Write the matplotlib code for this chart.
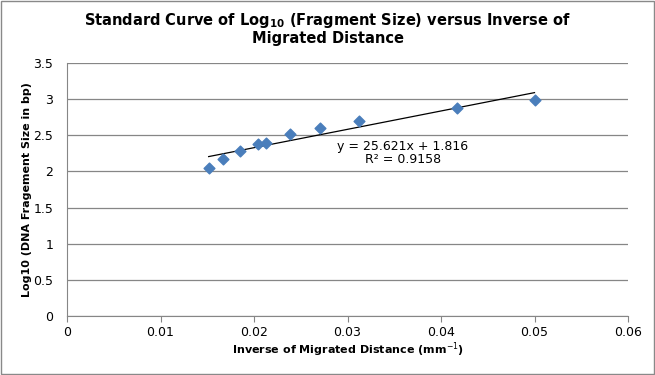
import numpy as np
import matplotlib.pyplot as plt
from matplotlib.patches import Rectangle

# inverse migrated distance (1/mm) and log10 fragment size
inv_dist = [0.01515, 0.01667, 0.01852, 0.02041, 0.02128, 0.02381, 0.02703, 0.03125, 0.04167, 0.05]
log_size = [2.045, 2.17, 2.28, 2.38, 2.395, 2.52, 2.60, 2.70, 2.875, 2.99]

eq_text = "y = 25.621x + 1.816\nR\u00b2 = 0.9158"

fig = plt.figure(figsize=(6.55, 3.75), dpi=100)
fig.patches.append(Rectangle((0.001, 0.002), 0.997, 0.995, transform=fig.transFigure,
                             fill=False, edgecolor="#898989", linewidth=1.0))
ax = fig.add_axes([67 / 655, 1 - 316 / 375, (628 - 67) / 655, (316 - 63) / 375])

ax.scatter(inv_dist, log_size, marker="D", s=30, color="#4a7ebb", edgecolors="#4a7ebb",
           zorder=3)

# linear trendline over the data range
k, b = np.polyfit(inv_dist, log_size, 1)
xs = np.array([min(inv_dist), max(inv_dist)])
ax.plot(xs, k * xs + b, color="black", linewidth=0.9, zorder=2)

ax.text(0.0359, 2.255, eq_text, ha="center", va="center", fontsize=9, linespacing=1.05)

ax.set_xlim(0, 0.06)
ax.set_ylim(0, 3.5)
ax.set_xticks(np.arange(0, 0.061, 0.01))
ax.set_xticklabels(["0", "0.01", "0.02", "0.03", "0.04", "0.05", "0.06"])
ax.set_yticks(np.arange(0, 3.6, 0.5))
ax.set_yticklabels(["0", "0.5", "1", "1.5", "2", "2.5", "3", "3.5"])
ax.yaxis.grid(True, color="#868686", linewidth=0.9)
ax.set_axisbelow(True)
for s in ["top", "right"]:
    ax.spines[s].set_visible(False)
for s in ["left", "bottom"]:
    ax.spines[s].set_color("#868686")
ax.tick_params(axis="both", labelsize=9, color="#868686", length=4, direction="out")
ax.tick_params(axis="y", length=0, pad=10)

ax.set_xlabel("Inverse of Migrated Distance (mm$^{-1}$)", fontsize=8, fontweight="bold",
              labelpad=1)
ax.set_ylabel("Log10 (DNA Fragement Size in bp)", fontsize=8, fontweight="bold",
              labelpad=1)
fig.suptitle("Standard Curve of Log$_{\\mathbf{10}}$ (Fragment Size) versus Inverse of\nMigrated Distance",
             fontsize=10.5, fontweight="bold", y=0.97, linespacing=1.1)

fig.savefig("out.png", dpi=100)
